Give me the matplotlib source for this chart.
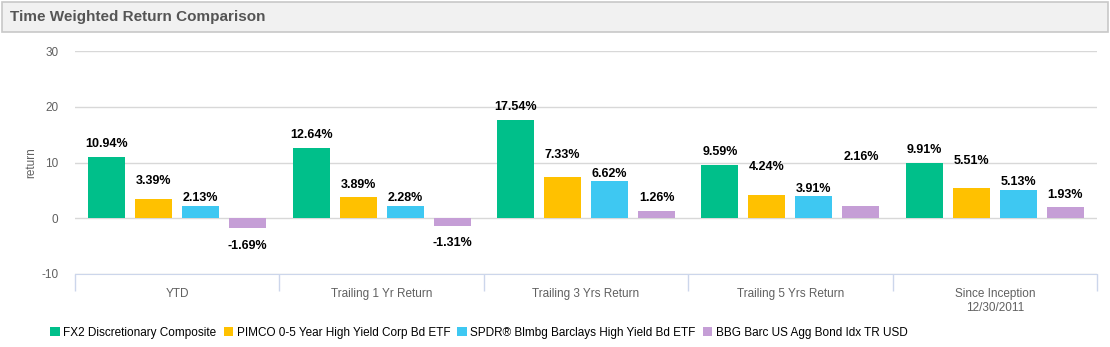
import numpy as np
import matplotlib.pyplot as plt
from matplotlib.patches import Rectangle

plt.rcParams['font.family'] = ['Liberation Sans', 'DejaVu Sans']
plt.rcParams['axes.unicode_minus'] = False

categories = ['YTD', 'Trailing 1 Yr Return', 'Trailing 3 Yrs Return',
              'Trailing 5 Yrs Return', 'Since Inception\n12/30/2011']
series = ['FX2 Discretionary Composite', 'PIMCO 0-5 Year High Yield Corp Bd ETF',
          'SPDR® Blmbg Barclays High Yield Bd ETF', 'BBG Barc US Agg Bond Idx TR USD']
fx2 = [10.94, 12.64, 17.54, 9.59, 9.91]
pimco = [3.39, 3.89, 7.33, 4.24, 5.51]
spdr = [2.13, 2.28, 6.62, 3.91, 5.13]
bbg = [-1.69, -1.31, 1.26, 2.16, 1.93]
values = [fx2, pimco, spdr, bbg]
colors = ['#00bf8a', '#ffc100', '#3ec8f2', '#c59ed6']
# label gap in pixels (the original chart shifts some labels to avoid overlaps)
label_gap = [[7, 7, 7, 7, 7],
             [12, 6, 16, 22, 21],
             [2, 2, 1, 1, 2],
             [12, 11, 7, 43, 6]]

fig = plt.figure(figsize=(11.1, 3.47), dpi=100)
px = 72 / 100  # points per pixel

# title bar
fig.patches.append(Rectangle((2 / 1110, 1 - 32 / 347), 1106 / 1110, 30 / 347,
                             transform=fig.transFigure, facecolor='#f1f1f1',
                             edgecolor='#c8c8c8', linewidth=1.2))
fig.text(10 / 1110, 1 - 17 / 347, 'Time Weighted Return Comparison', fontsize=11,
         fontweight='bold', color='#555555', va='center', ha='left')

ax = fig.add_axes([75 / 1110, 1 - 274 / 347, 1022 / 1110, 223 / 347])
x = np.arange(len(categories))
step, width = 0.23, 0.181
for i, (vals, c, name) in enumerate(zip(values, colors, series)):
    pos = x + (i - 1.5) * step
    bars = ax.bar(pos, vals, width, color=c, label=name, zorder=3)
    for j, (b, v) in enumerate(zip(bars, vals)):
        g = label_gap[i][j] * px
        if v >= 0:
            ax.annotate(f'{v:.2f}%', (b.get_x() + b.get_width() / 2, v),
                        xytext=(0, g), textcoords='offset points', ha='center',
                        va='bottom', fontsize=9, fontweight='bold', color='black')
        else:
            ax.annotate(f'{v:.2f}%', (b.get_x() + b.get_width() / 2, v),
                        xytext=(0, -g), textcoords='offset points', ha='center',
                        va='top', fontsize=9, fontweight='bold', color='black')

ax.set_xlim(-0.5, len(categories) - 0.5)
ax.set_ylim(-10, 30)
ax.set_yticks([-10, 0, 10, 20, 30])
ax.tick_params(axis='y', length=0, labelsize=8.5, labelcolor='#606060', pad=12)
ax.grid(axis='y', color='#d8d8d8', linewidth=1, zorder=0)
ax.set_xticks(x)
ax.set_xticklabels(categories)
ax.tick_params(axis='x', which='major', length=0, labelsize=8.5, labelcolor='#606060', pad=10)
ax.set_xticks(np.arange(-0.5, len(categories)), minor=True)
ax.tick_params(axis='x', which='minor', length=12, color='#ccd6eb', width=1)
for s in ['top', 'right', 'left']:
    ax.spines[s].set_visible(False)
ax.spines['bottom'].set_color('#ccd6eb')
ax.set_ylabel('return', fontsize=8.5, color='#606060', labelpad=3)

fig.legend(loc='center', bbox_to_anchor=(479 / 1110, 1 - 333 / 347), ncol=4,
           frameon=False, fontsize=8.5, handlelength=0.8, handleheight=0.8,
           handletextpad=0.3, columnspacing=0.6, borderpad=0)

fig.savefig('out.png', dpi=100)
